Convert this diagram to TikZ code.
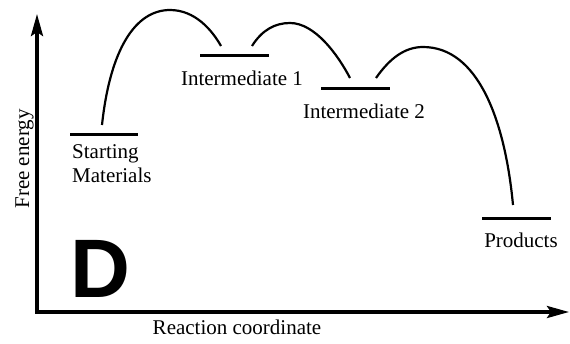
\documentclass[tikz,border=0pt]{standalone}
\usepackage{fontspec}
\setmainfont{Liberation Serif}
\newfontfamily\bigsans{Liberation Sans}
\usetikzlibrary{arrows.meta}
\begin{document}
\begin{tikzpicture}[x=1pt,y=-1pt,
  axisline/.style={line width=3.5pt,-{Stealth[length=22pt,width=12pt,inset=4pt]}},
  level/.style={line width=3pt},
  path/.style={line width=2.2pt},
  lab/.style={font=\fontsize{21}{24}\selectfont,inner sep=0pt}]
\useasboundingbox (0,0) rectangle (570,343);
% axes
\coordinate (O) at (37,312);
\coordinate (ytip) at (37,14);
\coordinate (xtip) at (569,312);
\draw[axisline] (O) -- (ytip);
\draw[axisline] ([xshift=-1.75pt]O) -- (xtip);
% levels
\coordinate (s1) at (70,134); \coordinate (s2) at (138,134);
\coordinate (a1) at (200,55); \coordinate (a2) at (269,55);
\coordinate (b1) at (321,88); \coordinate (b2) at (390,88);
\coordinate (p1) at (482,218); \coordinate (p2) at (551,218);
\draw[level] (s1) -- (s2);
\draw[level] (a1) -- (a2);
\draw[level] (b1) -- (b2);
\draw[level] (p1) -- (p2);
% curves
\coordinate (c1s) at (102,125); \coordinate (c1e) at (221,46);
\coordinate (c2s) at (252,46); \coordinate (c2e) at (350,78);
\coordinate (c3s) at (376,78); \coordinate (c3e) at (513,205);
\draw[path] (c1s) .. controls (110,50) and (135,10) .. (170,10) .. controls (195,10) and (212,30) .. (c1e);
\draw[path] (c2s) .. controls (262,30) and (275,23) .. (290,23) .. controls (315,23) and (338,55) .. (c2e);
\draw[path] (c3s) .. controls (390,58) and (405,47) .. (423,47) .. controls (478,47) and (505,120) .. (c3e);
% labels
\node[lab,anchor=base west] (st) at (72,158) {Starting};
\node[lab,anchor=base west] (ma) at (72,182) {Materials};
\node[lab,anchor=base] (i1) at (242,85) {Intermediate 1};
\node[lab,anchor=base] (i2) at (364,118) {Intermediate 2};
\node[lab,anchor=base] (pr) at (521,247) {Products};
\node[lab,anchor=base] (rc) at (237,334) {Reaction coordinate};
\node[lab,rotate=90,anchor=base] (fe) at (29,159) {Free energy};
\node[inner sep=0pt,anchor=base west,font=\bigsans\bfseries\fontsize{83}{83}\selectfont] (D) at (70,297) {D};
\end{tikzpicture}
\end{document}
